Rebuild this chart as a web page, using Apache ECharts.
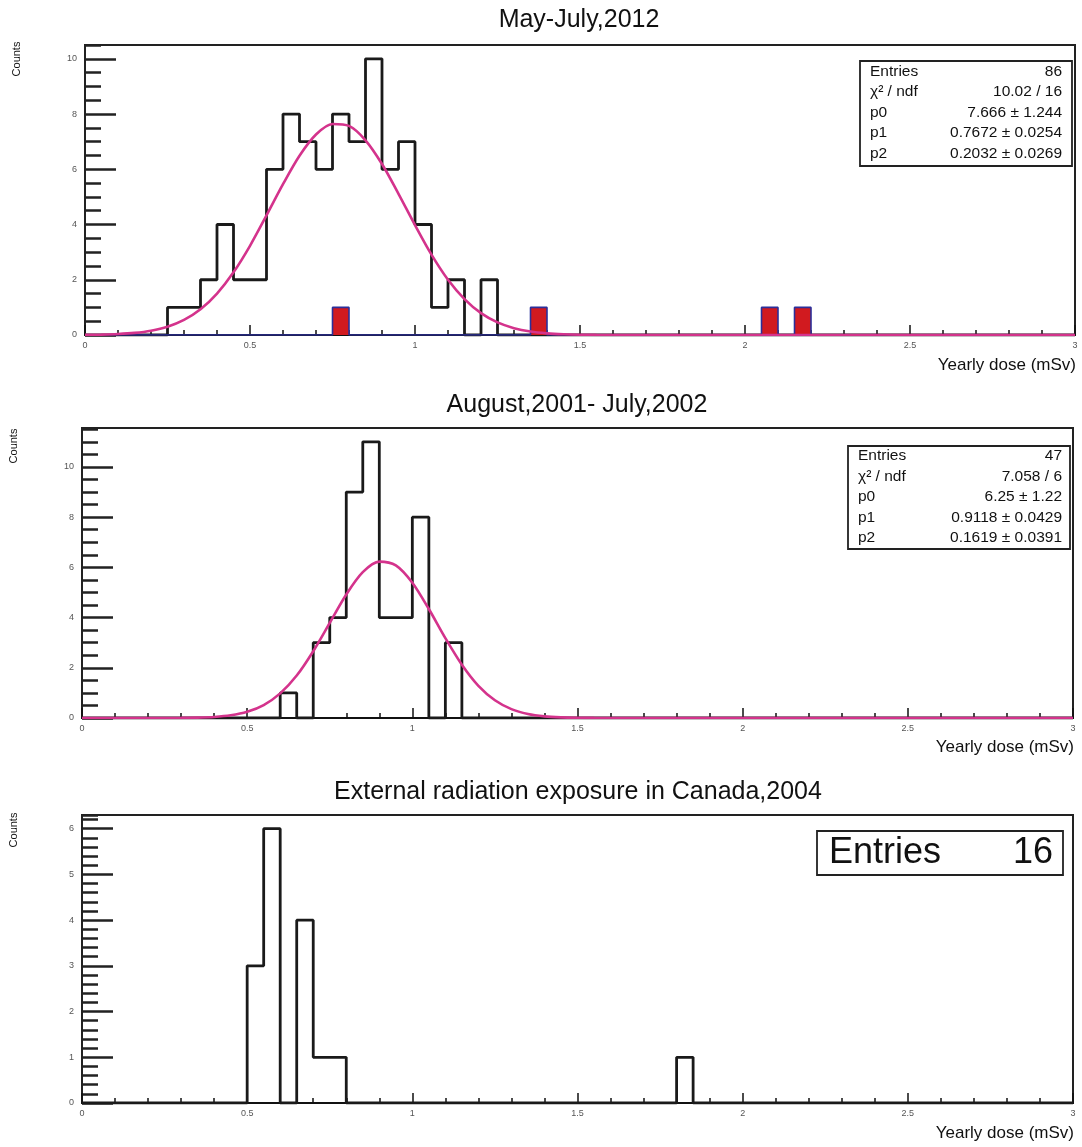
<!DOCTYPE html>
<html>
<head>
<meta charset="utf-8">
<script src="https://cdn.jsdelivr.net/npm/echarts/dist/echarts.min.js"></script>
<style>html,body{margin:0;padding:0;background:#fff;}#main{width:1082px;height:1147px;}</style>
</head>
<body>
<div id="main"></div>
<script>
// ---------- DATA ----------
const titles = ["May-July,2012", "August,2001- July,2002", "External radiation exposure in Canada,2004"];
const xAxisName = "Yearly dose (mSv)";
const yAxisName = "Counts";
const binWidth = 0.05;

// Panel 1 histogram (black)
const lows1 = [0.25,0.30,0.35,0.40,0.45,0.50,0.55,0.60,0.65,0.70,0.75,0.80,0.85,0.90,0.95,1.00,1.05,1.10,1.15,1.20];
const counts1 = [1,1,2,4,2,2,6,8,7,6,8,7,10,6,7,4,1,2,0,2];
// Panel 1 red histogram
const lowsRed = [0.75,1.35,2.05,2.15];
const countsRed = [1,1,1,1];
// Fit curves
const curveX = [0,0.05,0.10,0.15,0.20,0.25,0.30,0.35,0.40,0.45,0.50,0.55,0.60,0.65,0.70,0.75,0.80,0.85,0.90,0.95,1.00,1.05,1.10,1.15,1.20,1.25,1.30,1.35,1.40,1.45,1.50,1.55,1.60,3.0];
const curve1Y = [0.006,0.015,0.035,0.076,0.156,0.30,0.545,0.93,1.50,2.27,3.23,4.33,5.46,6.49,7.26,7.64,7.57,7.05,6.19,5.11,3.98,2.91,2.00,1.30,0.79,0.455,0.247,0.125,0.060,0.027,0.0115,0.004,0.0015,0];
const stats1Labels = ["Entries","χ² / ndf","p0","p1","p2"];
const stats1Values = ["86","10.02 / 16","7.666 ± 1.244","0.7672 ± 0.0254","0.2032 ± 0.0269"];

// Panel 2
const lows2 = [0.60,0.65,0.70,0.75,0.80,0.85,0.90,0.95,1.00,1.05,1.10];
const counts2 = [1,0,3,4,9,11,4,4,8,0,3];
const curve2Y = [0,0,0,0,0.0003,0.001,0.005,0.015,0.042,0.107,0.246,0.515,0.98,1.69,2.66,3.79,4.92,5.81,6.23,6.08,5.39,4.34,3.18,2.12,1.28,0.705,0.352,0.160,0.066,0.025,0.0085,0.003,0.001,0];
const stats2Labels = ["Entries","χ² / ndf","p0","p1","p2"];
const stats2Values = ["47","7.058 / 6","6.25 ± 1.22","0.9118 ± 0.0429","0.1619 ± 0.0391"];

// Panel 3
const lows3 = [0.50,0.55,0.60,0.65,0.70,0.75,1.80];
const counts3 = [3,6,0,4,1,1,1];
const stats3Labels = ["Entries"];
const stats3Values = ["16"];

const yMax = [10.5, 11.55, 6.3];
const yMajor = [2, 2, 1];
const yMinor = [0.5, 0.5, 0.2];
const xMin = 0, xMax = 3, xMajor = 0.5;

// ---------- BUILD ----------
function outline(lows, counts, w, xmax) {
  const pts = [[0, 0]];
  let curX = 0, level = 0;
  lows.forEach((lo, i) => {
    if (Math.abs(lo - curX) > 1e-9) {
      pts.push([curX, 0]); pts.push([lo, 0]); level = 0;
    }
    pts.push([lo, level]);
    pts.push([lo, counts[i]]);
    level = counts[i];
    curX = lo + w;
    pts.push([curX, level]);
  });
  pts.push([curX, 0]);
  pts.push([xmax, 0]);
  return pts;
}
const zip = (xs, ys) => xs.map((x, i) => [x, ys[i]]);

const grids = [
  {left: 85, right: 7, top: 45, height: 290},
  {left: 82, right: 9, top: 428, height: 290},
  {left: 82, right: 9, top: 815, height: 288}
].map(g => Object.assign({show: true, borderColor: '#222', borderWidth: 2, backgroundColor: 'transparent'}, g));

const FONT = '"Liberation Sans", Arial, sans-serif';

const xAxes = [0,1,2].map(i => ({
  gridIndex: i, type: 'value', min: xMin, max: xMax, interval: xMajor,
  axisLine: {lineStyle: {color: '#111', width: 2}},
  axisTick: {inside: true, length: 10, lineStyle: {color: '#111', width: 1.5}},
  minorTick: {show: true, splitNumber: 5, length: 5, lineStyle: {color: '#111', width: 1.5}},
  splitLine: {show: false}, minorSplitLine: {show: false},
  axisLabel: {fontSize: 9, color: '#555', margin: 6, fontFamily: FONT}
}));

const yAxes = [];
[0,1,2].forEach(i => {
  yAxes.push({
    gridIndex: i, type: 'value', position: 'left', min: 0, max: yMax[i], interval: yMinor[i],
    axisLine: {show: false},
    axisTick: {inside: true, length: 16, lineStyle: {color: '#222', width: 2.5}},
    axisLabel: {show: false}, splitLine: {show: false}
  });
  yAxes.push({
    gridIndex: i, type: 'value', position: 'left', min: 0, max: yMax[i], interval: yMajor[i],
    axisLine: {show: true, lineStyle: {color: '#222', width: 2}},
    axisTick: {inside: true, length: 31, lineStyle: {color: '#222', width: 2.5}},
    axisLabel: {fontSize: 9, color: '#555', margin: 8, fontFamily: FONT, showMaxLabel: false,
      formatter: v => (Math.abs(v / yMajor[i] - Math.round(v / yMajor[i])) < 1e-6 ? String(v) : '')},
    splitLine: {show: false}
  });
});

const MAG = '#d4338c';
function histSeries(g, pts, color, width) {
  return {type: 'line', xAxisIndex: g, yAxisIndex: g * 2 + 1, data: pts, showSymbol: false, symbol: 'none',
    lineStyle: {color: color, width: width}, clip: true, animation: false, z: 3};
}
const series = [
  histSeries(0, outline(lows1, counts1, binWidth, xMax), '#1a1a1a', 2.8),
  {type: 'line', xAxisIndex: 0, yAxisIndex: 1, data: outline(lowsRed, countsRed, binWidth, xMax),
    showSymbol: false, symbol: 'none', lineStyle: {color: '#2b2f9a', width: 1.6},
    areaStyle: {color: '#d11a1f', opacity: 1, origin: 0}, animation: false, z: 4},
  {type: 'line', xAxisIndex: 0, yAxisIndex: 1, data: zip(curveX, curve1Y), showSymbol: false, symbol: 'none',
    smooth: 0.3, lineStyle: {color: MAG, width: 2.6}, animation: false, z: 5},
  histSeries(1, outline(lows2, counts2, binWidth, xMax), '#1a1a1a', 2.8),
  {type: 'line', xAxisIndex: 1, yAxisIndex: 3, data: zip(curveX, curve2Y), showSymbol: false, symbol: 'none',
    smooth: 0.3, lineStyle: {color: MAG, width: 2.6}, animation: false, z: 5},
  histSeries(2, outline(lows3, counts3, binWidth, xMax), '#1a1a1a', 2.8)
];

function statsBox(x, y, w, h, labels, values, fontSize, rowH, padL, padR, padT) {
  const children = [{type: 'rect', shape: {x: x, y: y, width: w, height: h},
    style: {fill: '#fff', stroke: '#222', lineWidth: 1.8}}];
  labels.forEach((lab, k) => {
    const cy = y + padT + rowH * k + rowH / 2;
    children.push({type: 'text', x: x + padL, y: cy, style: {text: lab, fontSize: fontSize, fontFamily: FONT,
      fill: '#111', textAlign: 'left', textVerticalAlign: 'middle'}});
    children.push({type: 'text', x: x + w - padR, y: cy, style: {text: values[k], fontSize: fontSize, fontFamily: FONT,
      fill: '#111', textAlign: 'right', textVerticalAlign: 'middle'}});
  });
  return {type: 'group', children: children, z: 100};
}
function txt(x, y, s, size, align, rot) {
  return {type: 'text', x: x, y: y, rotation: rot || 0, z: 100,
    style: {text: s, fontSize: size, fontFamily: FONT, fill: '#111', textAlign: align, textVerticalAlign: 'middle'}};
}

const graphic = [
  txt(579, 20, titles[0], 25, 'center'),
  txt(577, 405, titles[1], 25, 'center'),
  txt(578, 792, titles[2], 25, 'center'),
  txt(1076, 365, xAxisName, 17, 'right'),
  txt(1074, 747, xAxisName, 17, 'right'),
  txt(1074, 1133, xAxisName, 17, 'right'),
  txt(17, 59, yAxisName, 11, 'center', Math.PI / 2),
  txt(14, 446, yAxisName, 11, 'center', Math.PI / 2),
  txt(14, 830, yAxisName, 11, 'center', Math.PI / 2),
  statsBox(860, 61, 212, 105, stats1Labels, stats1Values, 15.5, 20.6, 10, 10, 0),
  statsBox(848, 446, 222, 103, stats2Labels, stats2Values, 15.5, 20.4, 10, 8, 0),
  statsBox(817, 831, 246, 44, stats3Labels, stats3Values, 36, 44, 12, 10, 0)
];

const chart = echarts.init(document.getElementById('main'), null, {renderer: 'canvas'});
chart.setOption({
  backgroundColor: '#fff',
  animation: false,
  grid: grids,
  xAxis: xAxes,
  yAxis: yAxes,
  series: series,
  graphic: graphic
});
</script>
</body>
</html>
